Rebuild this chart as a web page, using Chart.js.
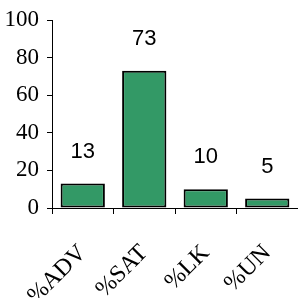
<!DOCTYPE html>
<html>
<head>
<meta charset="utf-8">
<script src="https://cdn.jsdelivr.net/npm/chart.js@4"></script>
<style>
  html, body { margin: 0; padding: 0; background: #fff; }
  #wrap { width: 298px; height: 298px; }
</style>
</head>
<body>
<div id="wrap"><canvas id="barChart" width="298" height="298"></canvas></div>
<script>
// Data
const categories = ['%ADV', '%SAT', '%LK', '%UN'];
const values = [13, 73, 10, 5];
const yTicks = [0, 20, 40, 60, 80, 100];

// Value labels above the bars
const valueLabels = {
    id: 'valueLabels',
    afterDatasetsDraw(chart) {
        const ctx = chart.ctx;
        const meta = chart.getDatasetMeta(0);
        ctx.save();
        ctx.font = '22px "Liberation Sans", Arial, sans-serif';
        ctx.fillStyle = '#000';
        ctx.textAlign = 'center';
        ctx.textBaseline = 'middle';
        meta.data.forEach(function(bar, i) {
            ctx.fillText(String(values[i]), bar.x, bar.y - 32);
        });
        ctx.restore();
    }
};

const ctx = document.getElementById('barChart').getContext('2d');
const barChart = new Chart(ctx, {
    type: 'bar',
    data: {
        labels: categories,
        datasets: [{
            data: values,
            backgroundColor: '#339966',
            borderColor: '#000000',
            borderWidth: 2,
            borderSkipped: false,
            categoryPercentage: 1,
            barPercentage: 0.72
        }]
    },
    options: {
        responsive: false,
        animation: false,
        layout: {
            padding: { top: 20, right: 0, left: 0, bottom: 0 }
        },
        plugins: {
            legend: { display: false },
            tooltip: { enabled: false }
        },
        scales: {
            x: {
                grid: {
                    offset: true,
                    drawOnChartArea: false,
                    tickLength: 6,
                    color: '#000'
                },
                border: { color: '#000', width: 1 },
                ticks: {
                    color: '#000',
                    font: { family: '"Liberation Serif", "Times New Roman", serif', size: 24 },
                    minRotation: 45,
                    maxRotation: 45,
                    padding: 25
                },
                afterFit(scale) {
                    scale.height = 90;
                    scale.paddingLeft = 0;
                    scale.paddingRight = 0;
                }
            },
            y: {
                min: 0,
                max: 100,
                grid: {
                    drawOnChartArea: false,
                    tickLength: 5,
                    color: '#000'
                },
                border: { color: '#000', width: 1 },
                ticks: {
                    stepSize: 20,
                    color: '#000',
                    padding: 8,
                    font: { family: '"Liberation Serif", "Times New Roman", serif', size: 23 },
                    callback: function(v) { return yTicks.includes(v) ? v : ''; }
                },
                afterFit(scale) {
                    scale.width = 52;
                    scale.paddingTop = 0;
                    scale.paddingBottom = 0;
                }
            }
        }
    },
    plugins: [valueLabels]
});
</script>
</body>
</html>
